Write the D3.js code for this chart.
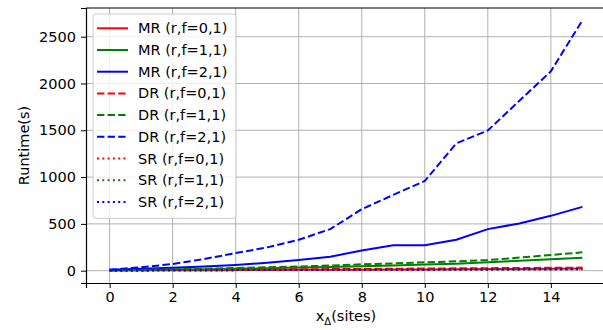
<!DOCTYPE html>
<html>
<head>
<meta charset="utf-8">
<script src="https://cdn.jsdelivr.net/npm/d3@7"></script>
<style>
  body { margin: 0; background: #fff; }
  svg { display: block; font-family: "DejaVu Sans", sans-serif; }
</style>
</head>
<body>
<svg id="chart" width="603" height="330"></svg>
<script>
// x positions (number of sites)
const sites = d3.range(0, 16);

// runtimes in seconds
const mr01 = [3, 4, 5, 6, 7, 8, 9, 10, 11, 12, 13, 15, 17, 19, 21, 24];
const mr11 = [5, 8, 12, 16, 21, 27, 33, 40, 48, 56, 65, 75, 90, 105, 122, 138];
const mr21 = [10, 20, 32, 45, 62, 85, 115, 150, 215, 272, 272, 330, 444, 505, 586, 682];
const dr01 = [4, 5, 7, 9, 11, 13, 15, 17, 19, 21, 23, 25, 27, 29, 31, 33];
const dr11 = [5, 10, 15, 20, 28, 36, 45, 55, 68, 78, 89, 100, 114, 140, 168, 196];
const dr21 = [10, 36, 71, 125, 188, 249, 330, 444, 657, 810, 958, 1360, 1498, 1815, 2130, 2673];
const sr01 = [2, 3, 4, 5, 6, 7, 8, 9, 10, 11, 12, 13, 14, 15, 16, 18];
const sr11 = [2, 3, 4, 5, 6, 7, 8, 9, 10, 11, 12, 13, 14, 15, 16, 17];
const sr21 = [2, 3, 4, 5, 6, 7, 8, 9, 10, 10, 11, 12, 13, 14, 15, 16];

const xTicks = [0, 2, 4, 6, 8, 10, 12, 14];
const yTicks = [0, 500, 1000, 1500, 2000, 2500];

const series = [
  { name: "MR (r,f=0,1)", values: mr01, color: "#ff0000", dash: null },
  { name: "MR (r,f=1,1)", values: mr11, color: "#008000", dash: null },
  { name: "MR (r,f=2,1)", values: mr21, color: "#0000ff", dash: null },
  { name: "DR (r,f=0,1)", values: dr01, color: "#ff0000", dash: "7.4,3.2" },
  { name: "DR (r,f=1,1)", values: dr11, color: "#008000", dash: "7.4,3.2" },
  { name: "DR (r,f=2,1)", values: dr21, color: "#0000ff", dash: "7.4,3.2" },
  { name: "SR (r,f=0,1)", values: sr01, color: "#ff0000", dash: "2,3.3" },
  { name: "SR (r,f=1,1)", values: sr11, color: "#1e6a1e", dash: "2,3.3" },
  { name: "SR (r,f=2,1)", values: sr21, color: "#0000ff", dash: "2,3.3" }
];

const margin = { top: 8, right: -3, bottom: 47, left: 86 };
const width = 603, height = 330;
const svg = d3.select("#chart");

// matplotlib style 5% padding on both axes
const xPad = 0.05 * (d3.max(sites) - d3.min(sites));
const allY = series.flatMap(s => s.values);
const yMin = d3.min(allY), yMax = d3.max(allY);
const yPad = 0.05 * (yMax - yMin);

const x = d3.scaleLinear()
  .domain([d3.min(sites) - xPad, d3.max(sites) + xPad])
  .range([margin.left, width - margin.right]);
const y = d3.scaleLinear()
  .domain([yMin - yPad, yMax + yPad])
  .range([height - margin.bottom, margin.top]);

const plotBottom = height - margin.bottom;

// grid
svg.append("g").selectAll("line").data(xTicks).join("line")
  .attr("x1", d => x(d)).attr("x2", d => x(d))
  .attr("y1", margin.top).attr("y2", plotBottom)
  .attr("stroke", "#b0b0b0").attr("stroke-width", 1);
svg.append("g").selectAll("line").data(yTicks).join("line")
  .attr("x1", margin.left).attr("x2", width - margin.right)
  .attr("y1", d => y(d)).attr("y2", d => y(d))
  .attr("stroke", "#b0b0b0").attr("stroke-width", 1);

// lines
const line = d3.line()
  .x((d, i) => x(sites[i]))
  .y(d => y(d));

svg.append("g").selectAll("path").data(series).join("path")
  .attr("fill", "none")
  .attr("stroke", d => d.color)
  .attr("stroke-width", 2)
  .attr("stroke-dasharray", d => d.dash)
  .attr("d", d => line(d.values));

// axes
const xAxis = d3.axisBottom(x).tickValues(xTicks).tickFormat(d3.format("d"))
  .tickSizeOuter(0).tickSize(5).tickPadding(4);
const yAxis = d3.axisLeft(y).tickValues(yTicks).tickFormat(d3.format("d"))
  .tickSizeOuter(0).tickSize(5).tickPadding(5);

const gx = svg.append("g")
  .attr("transform", `translate(0,${plotBottom})`)
  .call(xAxis);
const gy = svg.append("g")
  .attr("transform", `translate(${margin.left},0)`)
  .call(yAxis);

[gx, gy].forEach(g => {
  g.selectAll("text").attr("font-size", 14.5).attr("fill", "#000")
    .attr("font-family", "DejaVu Sans");
  g.selectAll(".tick line").attr("stroke", "#000").attr("stroke-width", 1);
  g.select(".domain").attr("stroke", "#000").attr("stroke-width", 1.2);
});

// top spine
svg.append("line")
  .attr("x1", margin.left).attr("x2", width - margin.right)
  .attr("y1", margin.top).attr("y2", margin.top)
  .attr("stroke", "#000").attr("stroke-width", 1.2);

// axis labels
const xl = svg.append("text")
  .attr("x", (margin.left + width - margin.right) / 2)
  .attr("y", 321)
  .attr("text-anchor", "middle")
  .attr("font-size", 14.5);
xl.append("tspan").text("x");
xl.append("tspan").attr("font-size", 10).attr("dy", 4).text("\u0394");
xl.append("tspan").attr("dy", -4).text("(sites)");

svg.append("text")
  .attr("transform", `translate(29,${(margin.top + plotBottom) / 2}) rotate(-90)`)
  .attr("text-anchor", "middle")
  .attr("font-size", 14.5)
  .text("Runtime(s)");

// legend
const rowH = 21.7;
const legend = svg.append("g").attr("transform", "translate(93,14)");
legend.append("rect")
  .attr("width", 143).attr("height", rowH * series.length + 9)
  .attr("rx", 3)
  .attr("fill", "#fff").attr("fill-opacity", 0.8)
  .attr("stroke", "#cccccc").attr("stroke-width", 1);

const rows = legend.selectAll("g.row").data(series).join("g")
  .attr("class", "row")
  .attr("transform", (d, i) => `translate(0,${14.3 + i * rowH})`);
rows.append("line")
  .attr("x1", 4).attr("x2", 35)
  .attr("stroke", d => d.color)
  .attr("stroke-width", 2)
  .attr("stroke-dasharray", d => d.dash);
rows.append("text")
  .attr("x", 45).attr("dy", "0.35em")
  .attr("font-size", 14.5)
  .text(d => d.name);
</script>
</body>
</html>
